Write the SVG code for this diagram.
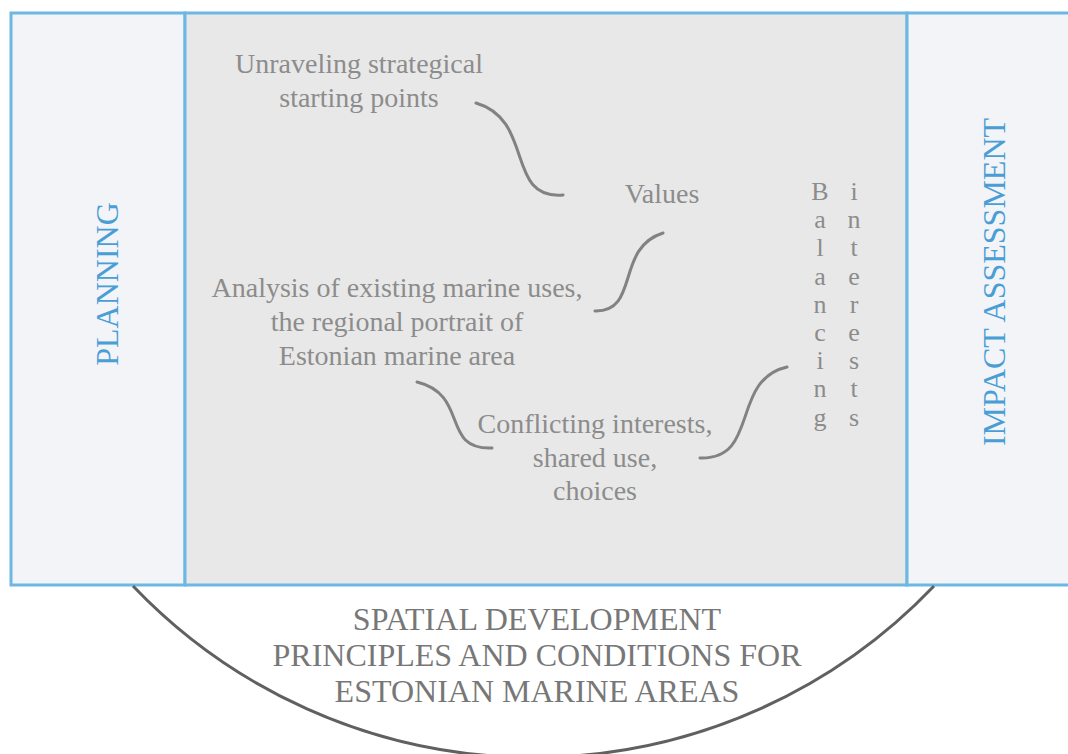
<svg xmlns="http://www.w3.org/2000/svg" width="1068" height="754" viewBox="0 0 1068 754">
<style>
text{font-family:'Liberation Serif',Tinos,'Times New Roman','DejaVu Serif',serif;text-anchor:middle}
.t{fill:#8c8c8c;font-size:28px}
.l{fill:#8c8c8c;font-size:26px}
.b{fill:#4a9ed6;font-size:32px}
.s{fill:#777777;font-size:32px}
.c{fill:none;stroke:#828282;stroke-width:3;stroke-linecap:round}
.p{stroke:#6cb8e3;stroke-width:3}
</style>
<rect width="1068" height="754" fill="#ffffff"/>
<g id="planning">
<rect x="11" y="13" width="174" height="572" fill="#f3f4f7" class="p"/>
<text class="b" transform="translate(118,284) rotate(-90)">PLANNING</text>
</g>
<g id="center">
<rect x="185" y="13" width="722" height="572" fill="#e8e8e8" class="p"/>
</g>
<g id="impact">
<rect x="907" y="13" width="170" height="572" fill="#f3f4f7" class="p"/>
<text class="b" transform="translate(1005,282) rotate(-90)">IMPACT ASSESSMENT</text>
</g>
<g id="unraveling"><text class="t" x="359" y="73">Unraveling strategical</text><text class="t" x="359" y="107">starting points</text></g>
<g id="values"><text class="t" x="662" y="203">Values</text></g>
<g id="analysis"><text class="t" x="397" y="297">Analysis of existing marine uses,</text><text class="t" x="397" y="331">the regional portrait of</text><text class="t" x="397" y="365">Estonian marine area</text></g>
<g id="conflicting"><text class="t" x="595" y="433">Conflicting interests,</text><text class="t" x="595" y="467">shared use,</text><text class="t" x="595" y="500">choices</text></g>
<g id="balancing">
<text class="l" x="820" y="200">B</text><text class="l" x="820" y="228">a</text><text class="l" x="820" y="256">l</text><text class="l" x="820" y="285">a</text><text class="l" x="820" y="313">n</text><text class="l" x="820" y="341">c</text><text class="l" x="820" y="369">i</text><text class="l" x="820" y="397">n</text><text class="l" x="820" y="426">g</text>
<text class="l" x="854" y="200">i</text><text class="l" x="854" y="228">n</text><text class="l" x="854" y="256">t</text><text class="l" x="854" y="285">e</text><text class="l" x="854" y="313">r</text><text class="l" x="854" y="341">e</text><text class="l" x="854" y="369">s</text><text class="l" x="854" y="397">t</text><text class="l" x="854" y="426">s</text>
</g>
<g id="principles">
<path d="M133,586 A553.7,553.7 0 0 0 934,586" fill="none" stroke="#606060" stroke-width="3"/>
<text class="s" x="537" y="630">SPATIAL DEVELOPMENT</text>
<text class="s" x="537" y="666">PRINCIPLES AND CONDITIONS FOR</text>
<text class="s" x="537" y="702">ESTONIAN MARINE AREAS</text>
</g>
<g id="connectors">
<path class="c" d="M476,103 C535,120 505,200 563,195"/>
<path class="c" d="M663,233 C615,248 640,312 595,311"/>
<path class="c" d="M417,382 C470,395 440,450 492,448"/>
<path class="c" d="M787,367 C730,380 760,460 700,458"/>
</g>
</svg>
